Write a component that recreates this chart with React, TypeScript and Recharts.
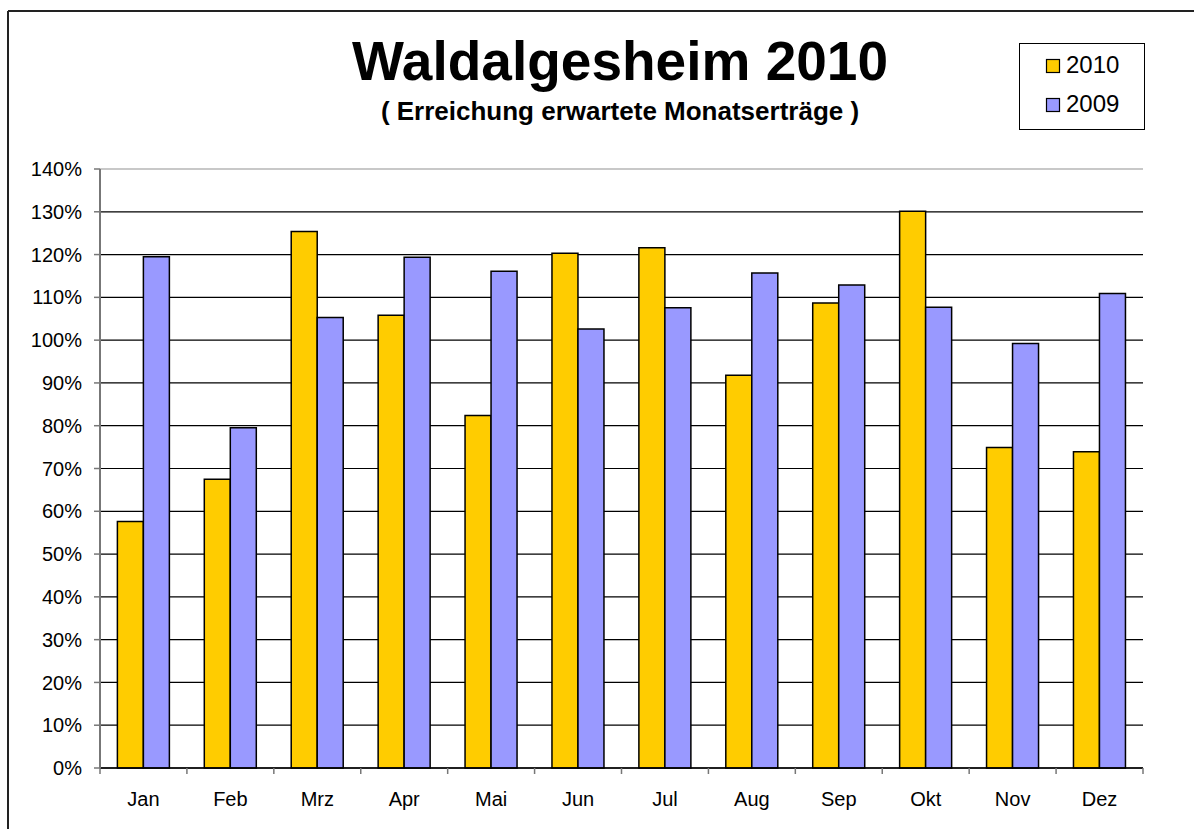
import { BarChart, Bar, XAxis, YAxis, CartesianGrid, ReferenceLine } from 'recharts'

const months = ['Jan', 'Feb', 'Mrz', 'Apr', 'Mai', 'Jun', 'Jul', 'Aug', 'Sep', 'Okt', 'Nov', 'Dez']
const values2010 = [57.6, 67.5, 125.4, 105.8, 82.4, 120.3, 121.6, 91.8, 108.7, 130.1, 74.9, 73.9]
const values2009 = [119.5, 79.5, 105.3, 119.4, 116.1, 102.6, 107.6, 115.7, 112.9, 107.7, 99.2, 110.9]
const yTicks = [0, 10, 20, 30, 40, 50, 60, 70, 80, 90, 100, 110, 120, 130, 140]

const title = 'Waldalgesheim 2010'
const subtitle = '( Erreichung erwartete Monatserträge )'
const seriesNames = ['2010', '2009']
const colors = ['#FFCC00', '#9999FF']

const chartData = months.map((m, i) => ({
  month: m,
  v2010: values2010[i],
  v2009: values2009[i],
}))

const W = 1194
const H = 829
const margin = { top: 169, right: 51, bottom: 0, left: 0 }
const yAxisWidth = 100
const band = (W - margin.right - yAxisWidth) / months.length
const font = "'Liberation Sans', Arial, sans-serif"

if (typeof document !== 'undefined') document.body.style.margin = '0'

function MonthTick(props: any) {
  const { x, y, payload, index } = props
  return (
    <g>
      <line x1={x - band / 2} y1={y} x2={x - band / 2} y2={y + 6} stroke="#777" strokeWidth={1.5} />
      {index === months.length - 1 && (
        <line x1={x + band / 2} y1={y} x2={x + band / 2} y2={y + 6} stroke="#777" strokeWidth={1.5} />
      )}
      <text x={x} y={y + 38} textAnchor="middle" fontSize={20} fontFamily={font} fill="#000">
        {payload.value}
      </text>
    </g>
  )
}

export default function App() {
  return (
    <div style={{ position: 'relative', width: W, height: H, background: '#fff', overflow: 'hidden', fontFamily: font }}>
      <BarChart
        width={W}
        height={H}
        data={chartData}
        margin={margin}
        barCategoryGap="20%"
        barGap={0}
      >
        <CartesianGrid vertical={false} stroke="#000" strokeWidth={1.2} />
        <ReferenceLine y={140} stroke="#c8c8c8" strokeWidth={2} />
        <XAxis
          dataKey="month"
          height={61}
          tickSize={0}
          tickMargin={0}
          tickLine={false}
          axisLine={{ stroke: '#000', strokeWidth: 1.5 }}
          tick={<MonthTick />}
          interval={0}
        />
        <YAxis
          width={yAxisWidth}
          domain={[0, 140]}
          ticks={yTicks}
          interval={0}
          tickFormatter={(v: number) => `${v}%`}
          tickSize={6}
          tickMargin={12}
          tickLine={{ stroke: '#777', strokeWidth: 1.5 }}
          axisLine={{ stroke: '#777', strokeWidth: 2 }}
          tick={{ fill: '#000', fontSize: 20, fontFamily: font }}
        />
        <YAxis
          yAxisId="right"
          orientation="right"
          width={0}
          domain={[0, 140]}
          tick={false}
          tickLine={false}
          axisLine={{ stroke: '#c8c8c8', strokeWidth: 2 }}
        />
        <Bar dataKey="v2010" name={seriesNames[0]} fill={colors[0]} stroke="#000" strokeWidth={1.5} isAnimationActive={false} />
        <Bar dataKey="v2009" name={seriesNames[1]} fill={colors[1]} stroke="#000" strokeWidth={1.5} isAnimationActive={false} />
      </BarChart>

      <svg width={W} height={H} style={{ position: 'absolute', left: 0, top: 0, pointerEvents: 'none' }}>
        <line x1={8} y1={11} x2={W} y2={11} stroke="#222" strokeWidth={2} />
        <line x1={8} y1={11} x2={8} y2={H} stroke="#222" strokeWidth={2} />
        <text x={620} y={80} textAnchor="middle" fontSize={55} fontWeight="bold" fontFamily={font} fill="#000">
          {title}
        </text>
        <text x={620} y={120} textAnchor="middle" fontSize={26} fontWeight="bold" fontFamily={font} fill="#000">
          {subtitle}
        </text>
        <rect x={1019.5} y={43.5} width={125} height={86} fill="#fff" stroke="#000" strokeWidth={1} />
        {seriesNames.map((name, i) => (
          <g key={name}>
            <rect x={1046.5} y={59.5 + i * 39} width={13} height={13} fill={colors[i]} stroke="#000" strokeWidth={1.2} />
            <text x={1066} y={73 + i * 39} fontSize={24} fontFamily={font} fill="#000">
              {name}
            </text>
          </g>
        ))}
      </svg>
    </div>
  )
}
